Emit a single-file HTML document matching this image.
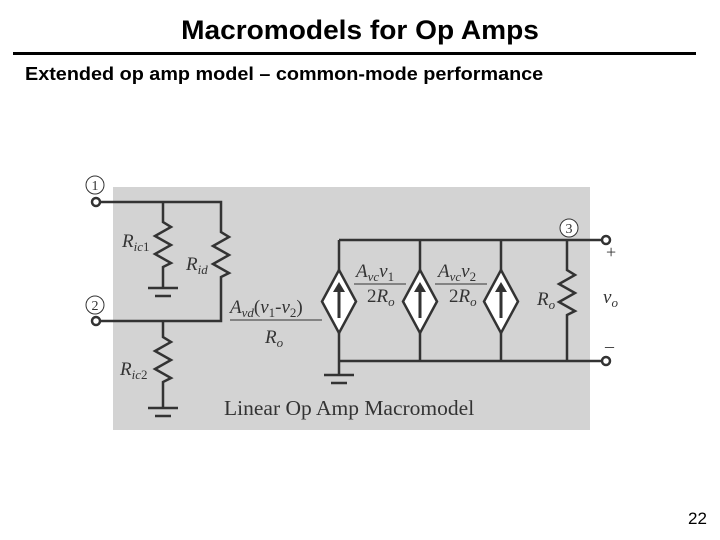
<!DOCTYPE html>
<html><head><style>
body{margin:0;width:720px;height:540px;background:#fff;position:relative;overflow:hidden;font-family:"Liberation Sans",sans-serif}
.t{position:absolute;left:0;width:720px;text-align:center;top:15px;font-size:27px;font-weight:bold;transform:scaleX(1.04)}
.hr{position:absolute;left:13px;width:683px;top:52px;height:3px;background:#000}
.s{position:absolute;left:25px;top:64px;font-size:18px;font-weight:bold;transform-origin:0 0;transform:scaleX(1.1)}
.p{position:absolute;left:688px;top:509px;font-size:17px}
</style></head><body>
<div class="t">Macromodels for Op Amps</div>
<div class="hr"></div>
<div class="s">Extended op amp model – common-mode performance</div>
<div class="p">22</div>
<svg width="720" height="540" style="position:absolute;left:0;top:0" font-family="Liberation Serif,serif" fill="#333">
<rect x="113" y="187" width="477" height="243" fill="#d3d3d3"/>
<g stroke="#333" stroke-width="2.5" fill="none">
<path d="M99 202H221V232l8 5-16 9 16 9-16 9 16 9-8 4V321H99"/>
<path d="M163 202V222l8 5-16 9 16 9-16 9 16 9-8 4V288"/>
<path d="M163 321V337l8 5-16 9 16 9-16 9 16 9-8 4V408"/>
<path d="M148 288h30M155 296h16M148 408h30M155 416h16M324 375h30M331 383h16"/>
<path d="M339 240H603M339 361H603M339 361V375"/>
<path d="M339 240V270M339 333V361M420 240V270M420 333V361M501 240V270M501 333V361"/>
<path d="M567 240V270l8 5-16 9 16 9-16 9 16 9-8 4V361"/>
</g>
<g stroke="#333" stroke-width="2.5" fill="#fff">
<path d="M339 270l17 31.5-17 31.5-17-31.5z"/><path d="M420 270l17 31.5-17 31.5-17-31.5z"/><path d="M501 270l17 31.5-17 31.5-17-31.5z"/>
<circle cx="96" cy="202" r="4"/><circle cx="96" cy="321" r="4"/><circle cx="606" cy="240" r="4"/><circle cx="606" cy="361" r="4"/>
</g>
<g stroke="#333" stroke-width="3"><path d="M339 318V290M420 318V290M501 318V290"/></g>
<path d="M333 292l6-10 6 10zM414 292l6-10 6 10zM495 292l6-10 6 10z" fill="#333"/>
<g fill="#fff" stroke="#333" stroke-width="1"><circle cx="95" cy="185" r="9"/><circle cx="95" cy="305" r="9"/><circle cx="569" cy="228" r="9"/></g>
<g font-size="14" text-anchor="middle" fill="#333"><text x="95" y="190">1</text><text x="95" y="310">2</text><text x="569" y="233">3</text></g>
<g font-style="italic" font-size="19">
<text x="122" y="247">R<tspan font-size="13" dy="4">ic</tspan><tspan font-size="13" font-style="normal">1</tspan></text>
<text x="186" y="270">R<tspan font-size="13" dy="4">id</tspan></text>
<text x="120" y="375">R<tspan font-size="13" dy="4">ic</tspan><tspan font-size="13" font-style="normal">2</tspan></text>
<text x="230" y="313">A<tspan font-size="13" dy="4">vd</tspan><tspan dy="-4" font-style="normal">(</tspan>v<tspan font-size="13" dy="4" font-style="normal">1</tspan><tspan dy="-4" font-style="normal">-</tspan>v<tspan font-size="13" dy="4" font-style="normal">2</tspan><tspan dy="-4" font-style="normal">)</tspan></text>
<text x="265" y="343">R<tspan font-size="13" dy="4">o</tspan></text>
<text x="356" y="277">A<tspan font-size="13" dy="4">vc</tspan><tspan dy="-4">v</tspan><tspan font-size="13" dy="4" font-style="normal">1</tspan></text>
<text x="367" y="302"><tspan font-style="normal">2</tspan>R<tspan font-size="13" dy="4">o</tspan></text>
<text x="438" y="277">A<tspan font-size="13" dy="4">vc</tspan><tspan dy="-4">v</tspan><tspan font-size="13" dy="4" font-style="normal">2</tspan></text>
<text x="449" y="302"><tspan font-style="normal">2</tspan>R<tspan font-size="13" dy="4">o</tspan></text>
<text x="537" y="305">R<tspan font-size="13" dy="4">o</tspan></text>
<text x="603" y="303">v<tspan font-size="13" dy="4">o</tspan></text>
</g>
<path d="M230 320H322M354 284H406M435 284H487" stroke="#333" stroke-width="1"/>
<g font-size="18"><text x="606" y="258">+</text><text x="605" y="352">–</text></g>
<text x="224" y="415" font-size="21.5">Linear Op Amp Macromodel</text>
</svg>
</body></html>
